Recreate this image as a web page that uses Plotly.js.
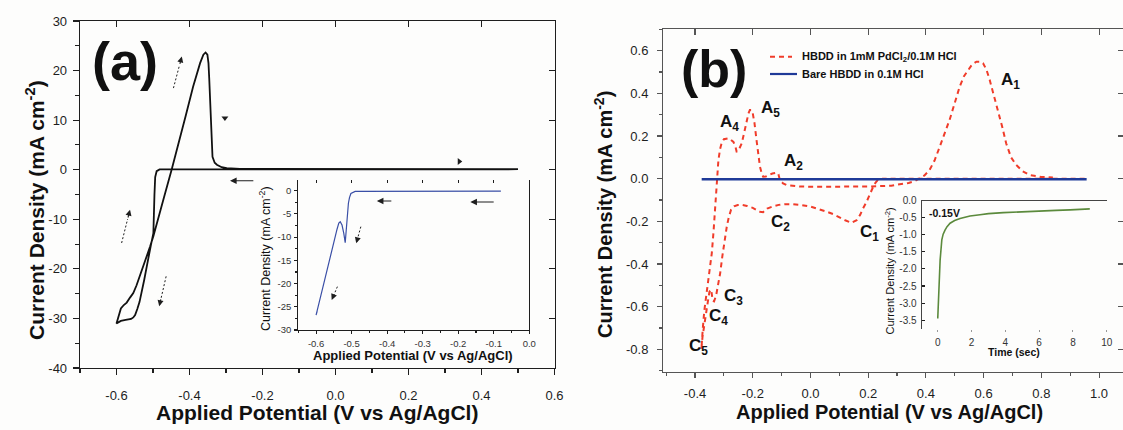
<!DOCTYPE html>
<html><head><meta charset="utf-8">
<script src="https://cdn.plot.ly/plotly-3.0.1.min.js"></script>
<style>html,body{margin:0;padding:0;background:#fdfdfc}#chart{width:1123px;height:430px}</style>
</head><body><div id="chart"></div><script>
// ---------- DATA ----------
// Panel (a) main CV (black)
const aMainX = [0.5, 0.0, -0.3, -0.45, -0.482, -0.49, -0.494, -0.496, -0.497, -0.499, -0.506, -0.512, -0.517, -0.524, -0.531, -0.537, -0.543, -0.549, -0.554, -0.56, -0.575, -0.588, -0.6,
  -0.595, -0.588, -0.58, -0.572, -0.563, -0.554, -0.545, -0.536, -0.527, -0.518, -0.508, -0.499, -0.49, -0.47, -0.449, -0.444, -0.42, -0.41, -0.39, -0.378, -0.371, -0.362, -0.356, -0.351, -0.348, -0.346, -0.344, -0.342, -0.340, -0.337, -0.331, -0.325, -0.312, -0.298, -0.262, 0.5];
const aMainY = [0.1, 0.1, 0.1, 0.1, 0.05, -0.3, -1.5, -5, -10, -12.8, -15.3, -17.3, -19.5, -22.2, -24.9, -26.7, -28.1, -29.3, -29.8, -30.1, -30.3, -30.5, -31,
  -29.5, -28.0, -27.3, -26.8, -25.8, -24.9, -23.3, -21.5, -19.5, -17.6, -15.5, -13.4, -11.1, -5.6, 0.0, 1.35, 8.2, 11.0, 16.8, 19.8, 21.5, 23.2, 23.65, 23.2, 21.5, 18.5, 14.8, 8.1, 4.5, 2.6, 1.4, 1.0, 0.5, 0.3, 0.15, 0.1];
// Panel (a) inset (blue)
const aInX = [-0.08, -0.2, -0.3, -0.4, -0.49, -0.502, -0.506, -0.509, -0.512, -0.515, -0.518, -0.522, -0.527, -0.532, -0.536, -0.541, -0.546, -0.556, -0.57, -0.585, -0.6, -0.597];
const aInY = [-0.1, -0.1, -0.1, -0.1, -0.15, -0.6, -1.5, -2.7, -5.5, -8.5, -11.2, -9.2, -7.4, -6.7, -7.0, -8.3, -9.9, -13.0, -17.1, -21.8, -26.8, -26.0];
// Panel (b) HBDD in PdCl2 (red dashed)
const bPdX = [0.95, 0.6, 0.3, 0.25, 0.235, 0.225, 0.215, 0.205, 0.194, 0.182, 0.172, 0.16, 0.142, 0.12, 0.1, 0.08, 0.05, 0.02, 0.0, -0.03, -0.06, -0.09, -0.11, -0.13, -0.15, -0.164, -0.175, -0.187, -0.2, -0.22, -0.238, -0.252, -0.265, -0.275, -0.283, -0.29, -0.297, -0.305, -0.313, -0.32, -0.327, -0.334, -0.339, -0.344, -0.35, -0.356, -0.362, -0.368, -0.374, -0.378,
  -0.376, -0.373, -0.368, -0.362, -0.354, -0.348, -0.342, -0.336, -0.331, -0.327, -0.323, -0.319, -0.313, -0.308, -0.3, -0.292, -0.285, -0.276, -0.267, -0.26, -0.256, -0.25, -0.244, -0.238, -0.229, -0.221, -0.215, -0.21, -0.205, -0.2, -0.194, -0.187, -0.181, -0.175, -0.169, -0.164, -0.155, -0.146, -0.132, -0.117, -0.111, -0.106, -0.095, -0.083, -0.06, -0.037, 0.0, 0.1, 0.2, 0.28, 0.31, 0.34, 0.36, 0.378, 0.395, 0.413, 0.43, 0.448, 0.465, 0.482, 0.5, 0.517, 0.532, 0.546, 0.56, 0.575, 0.59, 0.598, 0.61, 0.621, 0.635, 0.65, 0.665, 0.678, 0.695, 0.713, 0.735, 0.759, 0.8, 0.84];
const bPdY = [0, 0, 0, -0.001, -0.004, -0.02, -0.045, -0.08, -0.11, -0.14, -0.17, -0.195, -0.207, -0.195, -0.18, -0.167, -0.152, -0.138, -0.131, -0.124, -0.12, -0.12, -0.123, -0.13, -0.14, -0.157, -0.155, -0.147, -0.137, -0.128, -0.123, -0.124, -0.13, -0.145, -0.18, -0.225, -0.28, -0.36, -0.444, -0.5, -0.548, -0.575, -0.572, -0.52, -0.53, -0.58, -0.63, -0.68, -0.74, -0.8,
  -0.75, -0.7, -0.62, -0.56, -0.49, -0.42, -0.35, -0.25, -0.147, -0.06, 0.0, 0.088, 0.14, 0.166, 0.185, 0.189, 0.189, 0.182, 0.172, 0.15, 0.127, 0.13, 0.15, 0.166, 0.22, 0.275, 0.305, 0.322, 0.322, 0.306, 0.26, 0.181, 0.11, 0.056, 0.025, 0.009, 0.01, 0.017, 0.024, 0.028, 0.02, -0.006, -0.022, -0.03, -0.035, -0.037, -0.038, -0.038, -0.037, -0.033, -0.028, -0.02, -0.012, 0.002, 0.015, 0.041, 0.085, 0.15, 0.21, 0.275, 0.355, 0.431, 0.48, 0.51, 0.535, 0.548, 0.548, 0.541, 0.51, 0.463, 0.395, 0.322, 0.24, 0.166, 0.1, 0.064, 0.035, 0.017, 0.008, 0.005];
// Panel (b) bare HBDD (blue)
const bBareX = [-0.377, 0.0, 0.5, 0.957];
const bBareY = [-0.003, -0.003, -0.002, -0.003];
// Panel (b) inset chronoamperogram (green)
const bInT = [0, 0.02, 0.04, 0.08, 0.14, 0.24, 0.32, 0.43, 0.55, 0.73, 1.0, 1.32, 1.91, 2.5, 3.0, 3.88, 5.0, 5.86, 7.0, 7.83, 9.0];
const bInJ = [-3.45, -3.2, -2.8, -2.33, -1.74, -1.15, -0.98, -0.86, -0.76, -0.66, -0.58, -0.52, -0.45, -0.41, -0.38, -0.35, -0.32, -0.30, -0.285, -0.27, -0.24];
// Tick labels
const aXTickVals = [-0.6, -0.4, -0.2, 0, 0.2, 0.4, 0.6];
const aXTickText = ['-0.6', '-0.4', '-0.2', '0.0', '0.2', '0.4', '0.6'];
const aYTickVals = [-40, -30, -20, -10, 0, 10, 20, 30];
const aYTickText = ['-40', '-30', '-20', '-10', '0', '10', '20', '30'];
const aInXTickVals = [-0.6, -0.5, -0.4, -0.3, -0.2, -0.1, 0];
const aInXTickText = ['-0.6', '-0.5', '-0.4', '-0.3', '-0.2', '-0.1', '0.0'];
const aInYTickVals = [-30, -25, -20, -15, -10, -5, 0];
const aInYTickText = ['-30', '-25', '-20', '-15', '-10', '-5', '0'];
const bXTickVals = [-0.4, -0.2, 0, 0.2, 0.4, 0.6, 0.8, 1.0];
const bXTickText = ['-0.4', '-0.2', '0.0', '0.2', '0.4', '0.6', '0.8', '1.0'];
const bYTickVals = [-0.8, -0.6, -0.4, -0.2, 0, 0.2, 0.4, 0.6];
const bYTickText = ['-0.8', '-0.6', '-0.4', '-0.2', '0.0', '0.2', '0.4', '0.6'];
const bInXTickVals = [0, 2, 4, 6, 8, 10];
const bInXTickText = ['0', '2', '4', '6', '8', '10'];
const bInYTickVals = [0, -0.5, -1.0, -1.5, -2.0, -2.5, -3.0, -3.5];
const bInYTickText = ['0.0', '-0.5', '-1.0', '-1.5', '-2.0', '-2.5', '-3.0', '-3.5'];
// Peak labels of panel (b)
const bPeakLetters = ['A', 'A', 'A', 'A', 'C', 'C', 'C', 'C', 'C'];
const bPeakIndex = ['1', '4', '5', '2', '2', '1', '3', '4', '5'];
const bPeakX = [0.655, -0.319, -0.178, -0.097, -0.143, 0.165, -0.308, -0.357, -0.427];
const bPeakY = [0.459, 0.261, 0.327, 0.080, -0.206, -0.256, -0.557, -0.647, -0.788];
const legendNames = ['HBDD in 1mM PdCl<sub>2</sub>/0.1M HCl', 'Bare HBDD in 0.1M HCl'];
// Scan-direction arrows: [tailX, tailY, headX, headY]
const aDashedArrows = [[-0.444, 16.47, -0.421, 22.84], [-0.586, -14.78, -0.563, -8.06], [-0.464, -21.51, -0.483, -27.56]];
const aSolidArrows = [[-0.221, -2.22, -0.289, -2.22]];
const aInDashedArrows = [[-0.474, -7.75, -0.487, -11.33], [-0.54, -20.67, -0.556, -23.54]];
const aInSolidArrows = [[-0.384, -2.22, -0.429, -2.22], [-0.096, -2.43, -0.166, -2.43]];

// ---------- LAYOUT HELPERS ----------
const W = 1123, H = 430;
const px = X => X / W;
const py = Y => 1 - Y / H;
const FONT = 'Liberation Sans, Arial, Helvetica, sans-serif';
const INK = '#1e1e1e';
const AX = {showgrid: false, zeroline: false, showline: true, linecolor: INK, linewidth: 1.3,
  tickcolor: INK, tickwidth: 1.1, automargin: false, fixedrange: true,
  tickfont: {family: FONT, size: 13, color: INK}, tickmode: 'array'};

const traces = [
  {x: aMainX, y: aMainY, xaxis: 'x', yaxis: 'y', mode: 'lines', line: {color: '#111', width: 1.8}, hoverinfo: 'skip', showlegend: false},
  {x: [], y: [], xaxis: 'x2', yaxis: 'y2', mode: 'lines', showlegend: false, hoverinfo: 'skip'},
  {x: aInX, y: aInY, xaxis: 'x3', yaxis: 'y3', mode: 'lines', line: {color: '#3a4fa6', width: 1.2}, hoverinfo: 'skip', showlegend: false},
  {x: [], y: [], xaxis: 'x8', yaxis: 'y3', mode: 'lines', showlegend: false, hoverinfo: 'skip'},
  {x: bPdX, y: bPdY, xaxis: 'x4', yaxis: 'y4', mode: 'lines', name: legendNames[0], line: {color: '#f03c2a', width: 2, dash: '5px,4px'}, hoverinfo: 'skip', showlegend: false},
  {x: bBareX, y: bBareY, xaxis: 'x4', yaxis: 'y4', mode: 'lines', name: legendNames[1], line: {color: '#1f3a98', width: 2.6}, hoverinfo: 'skip', showlegend: false},
  {x: [], y: [], xaxis: 'x5', yaxis: 'y5', mode: 'lines', showlegend: false, hoverinfo: 'skip'},
  {x: bInT, y: bInJ, xaxis: 'x6', yaxis: 'y6', mode: 'lines', line: {color: '#5b8a3c', width: 1.6}, hoverinfo: 'skip', showlegend: false},
  {x: [], y: [], xaxis: 'x7', yaxis: 'y6', mode: 'lines', showlegend: false, hoverinfo: 'skip'},
  {x: [-0.303], y: [10.42], xaxis: 'x', yaxis: 'y', mode: 'markers', marker: {symbol: 'triangle-down', size: 6, color: INK}, hoverinfo: 'skip', showlegend: false},
  {x: [0.339], y: [1.67], xaxis: 'x', yaxis: 'y', mode: 'markers', marker: {symbol: 'triangle-right', size: 6, color: INK}, hoverinfo: 'skip', showlegend: false}
];

const layout = {
  width: W, height: H, margin: {l: 0, r: 0, t: 0, b: 0, pad: 0},
  paper_bgcolor: '#fdfdfc', plot_bgcolor: 'rgba(0,0,0,0)', showlegend: false,
  font: {family: FONT, color: INK},
  // Panel (a) main
  xaxis: Object.assign({}, AX, {domain: [px(80), px(554.5)], range: [-0.7, 0.6], anchor: 'y',
    tickvals: aXTickVals, ticktext: aXTickText, ticks: 'outside', ticklen: 6, ticklabelstandoff: 9,
    minor: {tickmode: 'linear', tick0: -0.7, dtick: 0.1, ticks: 'outside', ticklen: 3.5, tickcolor: INK}}),
  yaxis: Object.assign({}, AX, {domain: [py(368), py(21)], range: [-40, 30], anchor: 'x',
    tickvals: aYTickVals, ticktext: aYTickText, ticks: 'outside', ticklen: 6, ticklabelstandoff: 3,
    minor: {tickmode: 'linear', tick0: -40, dtick: 5, ticks: 'outside', ticklen: 3.5, tickcolor: INK}}),
  xaxis2: Object.assign({}, AX, {overlaying: 'x', side: 'top', anchor: 'y', range: [-0.7, 0.6],
    tickvals: aXTickVals, ticks: 'inside', ticklen: 6, showticklabels: false}),
  yaxis2: Object.assign({}, AX, {overlaying: 'y', side: 'right', anchor: 'x', range: [-40, 30],
    tickvals: aYTickVals, ticks: 'inside', ticklen: 6, showticklabels: false}),
  // Panel (a) inset
  xaxis3: Object.assign({}, AX, {domain: [px(298.3), px(529.3)], range: [-0.65, 0], anchor: 'y3',
    tickvals: aInXTickVals, ticktext: aInXTickText, ticks: 'outside', ticklen: 3, ticklabelstandoff: 1,
    tickfont: {family: FONT, size: 9.5, color: '#333'},
    minor: {tickmode: 'linear', tick0: -0.65, dtick: 0.05, ticks: 'outside', ticklen: 2, tickcolor: INK}}),
  xaxis8: Object.assign({}, AX, {overlaying: 'x3', side: 'top', anchor: 'y3', range: [-0.65, 0],
    tickvals: aInXTickVals, ticks: 'inside', ticklen: 3, showticklabels: false, showline: false}),
  yaxis3: Object.assign({}, AX, {domain: [py(330), py(180)], range: [-30, 2.3], anchor: 'x3', mirror: true,
    tickvals: aInYTickVals, ticktext: aInYTickText, ticks: 'outside', ticklen: 3, ticklabelstandoff: 1,
    tickfont: {family: FONT, size: 9.5, color: '#333'}, linewidth: 1.1,
    minor: {tickmode: 'linear', tick0: -30, dtick: 2.5, ticks: 'outside', ticklen: 2, tickcolor: INK}}),
  // Panel (b) main
  xaxis4: Object.assign({}, AX, {domain: [px(663.3), 1], range: [-0.51, 1.083], anchor: 'y4',
    tickvals: bXTickVals, ticktext: bXTickText, ticks: 'outside', ticklen: 5, ticklabelstandoff: 4,
    linecolor: '#555', tickcolor: '#555',
    minor: {tickmode: 'linear', tick0: -0.5, dtick: 0.1, ticks: 'outside', ticklen: 3, tickcolor: '#555'}}),
  yaxis4: Object.assign({}, AX, {domain: [py(371.7), py(29.3)], range: [-0.905, 0.7], anchor: 'x4',
    tickvals: bYTickVals, ticktext: bYTickText, ticks: 'outside', ticklen: 5, ticklabelstandoff: 6,
    linecolor: '#555', tickcolor: '#555',
    minor: {tickmode: 'linear', tick0: -0.9, dtick: 0.1, ticks: 'outside', ticklen: 3, tickcolor: '#555'}}),
  xaxis5: Object.assign({}, AX, {overlaying: 'x4', side: 'top', anchor: 'y4', range: [-0.51, 1.083],
    tickvals: bXTickVals, ticks: 'inside', ticklen: 6, showticklabels: false, linecolor: '#555', tickcolor: '#555'}),
  yaxis5: Object.assign({}, AX, {overlaying: 'y4', side: 'right', anchor: 'x4', range: [-0.905, 0.7],
    tickvals: bYTickVals, ticks: 'inside', ticklen: 5, showticklabels: false, linecolor: '#555', tickcolor: '#555'}),
  // Panel (b) inset
  xaxis6: Object.assign({}, AX, {domain: [px(921.7), px(1106.7)], range: [-0.95, 10], anchor: 'y6', showline: false,
    tickvals: bInXTickVals, ticktext: bInXTickText, ticks: 'outside', ticklen: 2, tickcolor: '#999', ticklabelstandoff: 2,
    tickfont: {family: FONT, size: 10, color: '#333'}}),
  xaxis7: Object.assign({}, AX, {overlaying: 'x6', side: 'top', anchor: 'y6', range: [-0.95, 10],
    ticks: '', showticklabels: false, linecolor: '#444', linewidth: 1.1}),
  yaxis6: Object.assign({}, AX, {domain: [py(329), py(200.7)], range: [-3.76, 0], anchor: 'x6',
    tickvals: bInYTickVals, ticktext: bInYTickText, ticks: 'inside', ticklen: 3, ticklabelstandoff: 2,
    linecolor: '#444', linewidth: 1.1, tickfont: {family: FONT, size: 10, color: '#333'}}),
  shapes: [
    {type: 'line', xref: 'paper', yref: 'paper', x0: px(770), x1: px(792), y0: py(56.7), y1: py(56.7),
      line: {color: '#f03c2a', width: 2, dash: '5px,4px'}},
    {type: 'line', xref: 'paper', yref: 'paper', x0: px(770), x1: px(797), y0: py(74), y1: py(74),
      line: {color: '#1f3a98', width: 2.2}}
  ],
  annotations: []
};

const A = layout.annotations;
const S = layout.shapes;
function note(text, X, Y, size, opts) {
  A.push(Object.assign({text: text, xref: 'paper', yref: 'paper', x: px(X), y: py(Y), showarrow: false,
    xanchor: 'center', yanchor: 'middle', font: {family: FONT, size: size, color: '#111'}}, opts || {}));
}
function arrow(def, xr, yr, dashed) {
  const [tx, ty, hx, hy] = def;
  const f = dashed ? 0.72 : 0;
  const sx = tx + (hx - tx) * f, sy = ty + (hy - ty) * f;
  if (dashed) {
    S.push({type: 'line', xref: xr, yref: yr, x0: tx, y0: ty, x1: sx, y1: sy,
      line: {color: INK, width: 1, dash: '2px,2px'}});
  }
  A.push({text: '', xref: xr, yref: yr, axref: xr, ayref: yr, x: hx, y: hy, ax: sx, ay: sy,
    showarrow: true, arrowhead: 2, arrowsize: dashed ? 1.1 : 1.2, arrowwidth: 1.1, arrowcolor: INK, standoff: 0, startstandoff: 0});
}
aDashedArrows.forEach(d => arrow(d, 'x', 'y', true));
aSolidArrows.forEach(d => arrow(d, 'x', 'y', false));
aInDashedArrows.forEach(d => arrow(d, 'x3', 'y3', true));
aInSolidArrows.forEach(d => arrow(d, 'x3', 'y3', false));

// panel labels
note('<b>(a)</b>', 125, 61, 54);
note('<b>(b)</b>', 714, 69, 52);
// axis titles
note('<b>Applied Potential (V vs Ag/AgCl)</b>', 317, 412, 21);
note('<b>Current Density (mA cm<sup>-2</sup>)</b>', 35, 210, 21, {textangle: -90});
note('<b>Applied Potential (V vs Ag/AgCl)</b>', 889, 412, 20);
note('<b>Current Density (mA cm<sup>-2</sup>)</b>', 603, 215, 20, {textangle: -90});
// inset (a) titles
note('<b>Applied Potential (V vs Ag/AgCl)</b>', 413, 355, 13);
note('Current Density (mA cm<sup>-2</sup>)', 265, 259, 12.5, {textangle: -90});
// inset (b) titles
note('<b>Time (sec)</b>', 1014, 352, 10.5);
note('Current Density (mA cm<sup>-2</sup>)', 889, 271.5, 11, {textangle: -90});
note('<b>-0.15V</b>', 926.7, 213.3, 10.5, {xanchor: 'left'});
// legend text
note('<b>' + legendNames[0] + '</b>', 800, 56.7, 11, {xanchor: 'left'});
note('<b>' + legendNames[1] + '</b>', 800, 74, 11, {xanchor: 'left'});
// peak labels
for (let i = 0; i < bPeakLetters.length; i++) {
  A.push({text: '<b>' + bPeakLetters[i] + '<sub>' + bPeakIndex[i] + '</sub></b>', xref: 'x4', yref: 'y4',
    x: bPeakX[i], y: bPeakY[i], showarrow: false, xanchor: 'left', yanchor: 'middle',
    font: {family: FONT, size: 17, color: '#111'}});
}

Plotly.newPlot('chart', traces, layout, {staticPlot: true, displayModeBar: false});
</script></body></html>
